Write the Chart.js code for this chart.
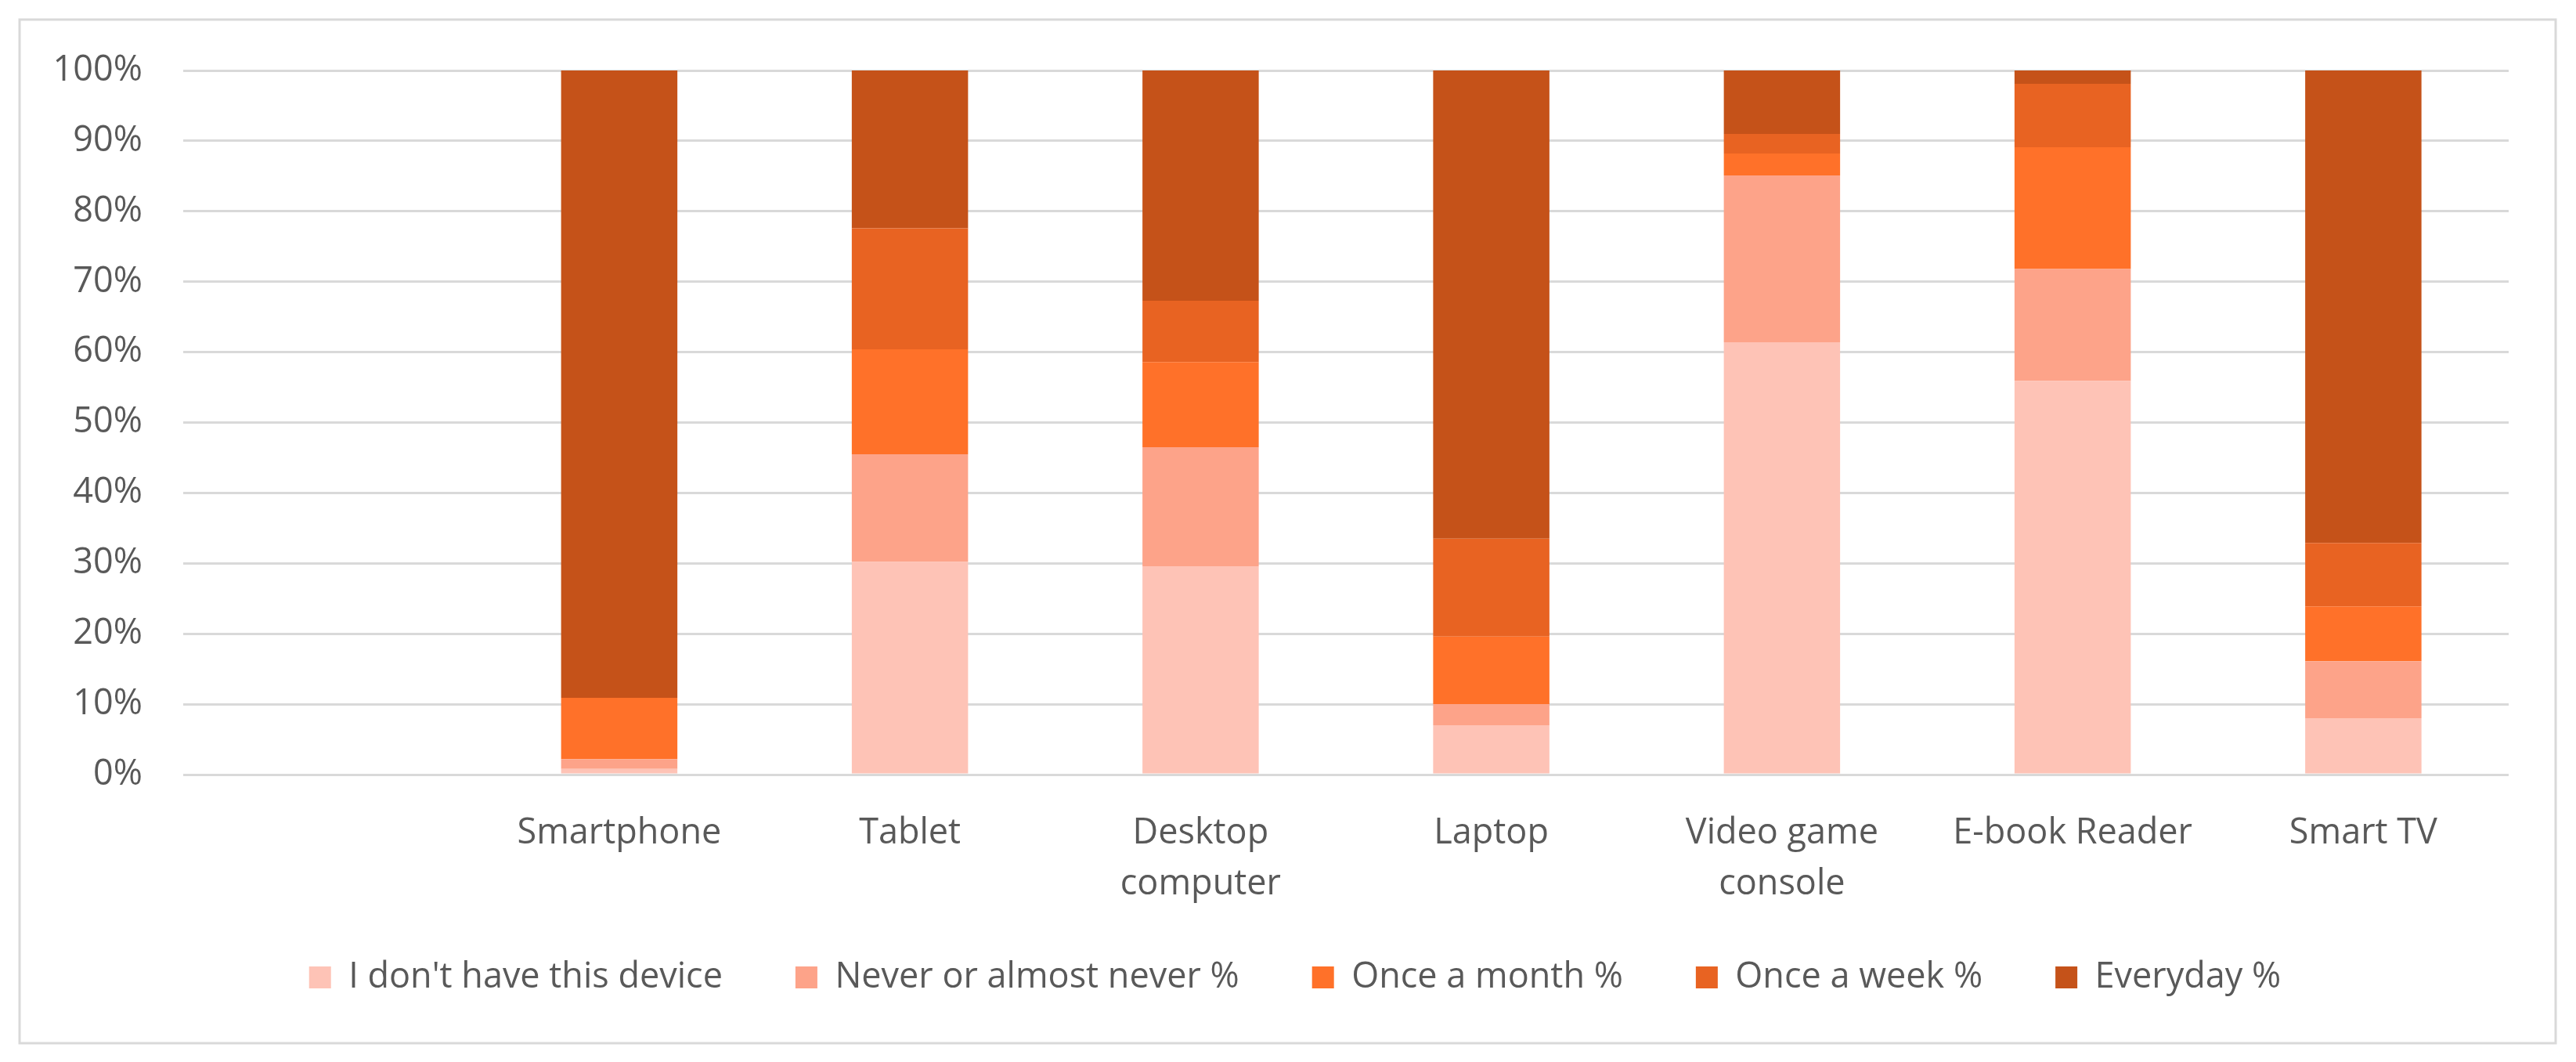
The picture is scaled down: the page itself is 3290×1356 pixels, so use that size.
<!DOCTYPE html>
<html>
<head>
<meta charset="utf-8">
<script src="https://cdn.jsdelivr.net/npm/chart.js@4/dist/chart.umd.min.js"></script>
<style>
  html, body { margin: 0; padding: 0; background: #ffffff; }
  #wrap { width: 3290px; height: 1356px; position: relative; }
</style>
</head>
<body>
<div id="wrap"><canvas id="c" width="3290" height="1356"></canvas></div>
<script>
const categories = ['', 'Smartphone', 'Tablet', ['Desktop', 'computer'], 'Laptop', ['Video game', 'console'], 'E-book Reader', 'Smart TV'];
const seriesNames = ["I don't have this device", 'Never or almost never %', 'Once a month %', 'Once a week %', 'Everyday %'];
const noDevice = [null, 0.8, 30.2, 29.6, 7.0, 61.4, 55.9, 8.0];
const never    = [null, 1.4, 15.3, 16.9, 3.0, 23.7, 15.9, 8.1];
const monthly  = [null, 8.7, 14.9, 12.1, 9.6, 3.1, 17.3, 7.8];
const weekly   = [null, 0.0, 17.2, 8.7, 13.9, 2.8, 9.0, 9.0];
const everyday = [null, 89.1, 22.4, 32.7, 66.5, 9.0, 1.9, 67.1];
const yTicks = [0, 10, 20, 30, 40, 50, 60, 70, 80, 90, 100];
const colors = ['#FEC3B6', '#FDA389', '#FF7129', '#E86322', '#C55219'];

const seriesValues = [noDevice, never, monthly, weekly, everyday];
const FONT = '"Open Sans", "DejaVu Sans", sans-serif';
const TEXT = '#595959';

const frame = {
  id: 'frame',
  beforeDraw(chart) {
    const ctx = chart.ctx;
    ctx.save();
    ctx.fillStyle = '#ffffff';
    ctx.fillRect(0, 0, chart.width, chart.height);
    ctx.strokeStyle = '#D9D9D9';
    ctx.lineWidth = 3;
    ctx.strokeRect(25, 25, 3239, 1307);
    ctx.restore();
  }
};

new Chart(document.getElementById('c'), {
  type: 'bar',
  data: {
    labels: categories,
    datasets: seriesValues.map((vals, i) => ({
      label: seriesNames[i],
      data: vals,
      backgroundColor: colors[i],
      borderWidth: 0,
      categoryPercentage: 1.0,
      barPercentage: 0.4
    }))
  },
  plugins: [frame],
  options: {
    responsive: false,
    animation: false,
    layout: { padding: { left: 104, right: 86, top: 90, bottom: 75.5 } },
    plugins: {
      tooltip: { enabled: false },
      legend: {
        position: 'bottom',
        align: 'center',
        labels: {
          color: TEXT,
          font: { family: FONT, size: 45 },
          boxWidth: 28,
          boxHeight: 28,
          padding: 93
        }
      }
    },
    scales: {
      x: {
        stacked: true,
        grid: { display: false, drawTicks: false },
        border: { display: false },
        ticks: {
          color: TEXT,
          font: { family: FONT, size: 45, lineHeight: 1.444 },
          padding: 43,
          maxRotation: 0,
          autoSkip: false
        },
        afterFit(scale) {
          scale.height = 143.5;
          scale._computeLabelArea = function () { return undefined; };
        }
      },
      y: {
        stacked: true,
        min: 0,
        max: 100,
        afterBuildTicks(scale) { scale.ticks = yTicks.map(v => ({ value: v })); },
        grid: { color: '#D9D9D9', lineWidth: 3, drawTicks: false },
        border: { display: false },
        ticks: {
          color: TEXT,
          font: { family: FONT, size: 45 },
          padding: 52,
          callback: v => v + '%'
        },
        afterFit(scale) {
          scale.width = 130;
          scale._computeLabelArea = function () { return undefined; };
        }
      }
    }
  }
});
</script>
</body>
</html>
